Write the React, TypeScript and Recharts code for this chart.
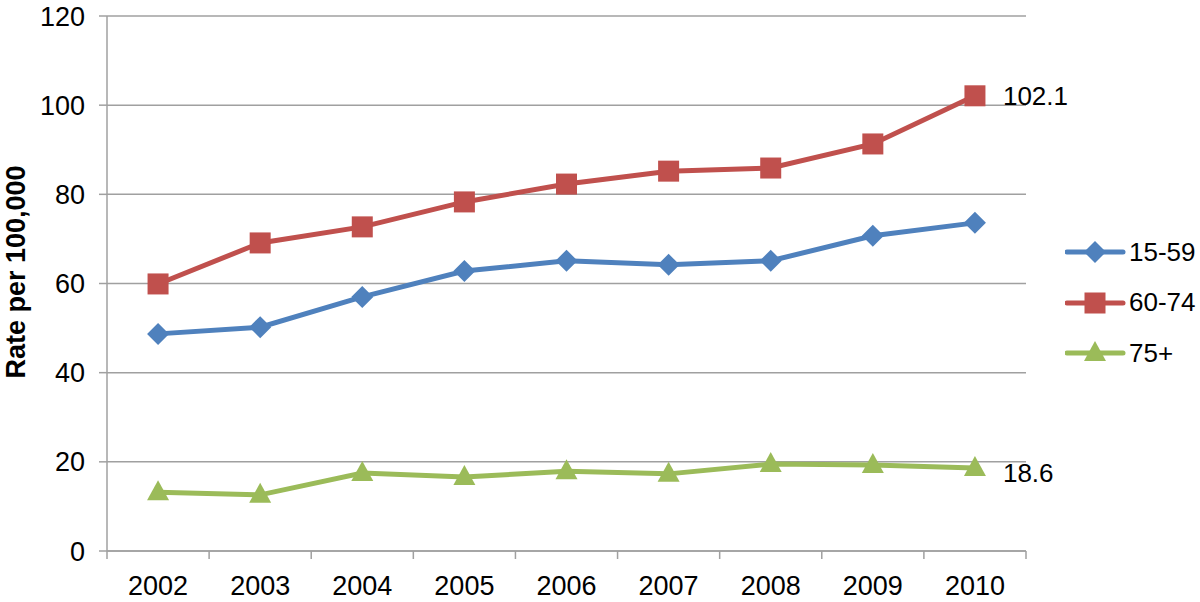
import React from "react";
import { LineChart, Line, XAxis, YAxis, CartesianGrid, Legend, LabelList } from "recharts";

// -------------------------
// DATA
// -------------------------
const years = ["2002", "2003", "2004", "2005", "2006", "2007", "2008", "2009", "2010"];
const rate15to59 = [48.7, 50.2, 57.0, 62.8, 65.1, 64.2, 65.1, 70.7, 73.6];
const rate60to74 = [59.9, 69.1, 72.7, 78.3, 82.3, 85.2, 85.9, 91.3, 102.1];
const rate75plus = [13.2, 12.6, 17.5, 16.6, 17.9, 17.3, 19.5, 19.3, 18.6];
const yTicks = [0, 20, 40, 60, 80, 100, 120];

const FONT = "'Liberation Sans', Arial, Helvetica, sans-serif";
const GRID = "#a0a0a0";

const SERIES = [
  { key: "g1", name: "15-59", color: "#4f81bd", shape: "diamond" },
  { key: "g2", name: "60-74", color: "#c0504d", shape: "square" },
  { key: "g3", name: "75+", color: "#9bbb59", shape: "triangle" },
];

const data = years.map((year, i) => ({
  year,
  g1: rate15to59[i],
  g2: rate60to74[i],
  g3: rate75plus[i],
}));

function Marker({ cx, cy, shape, color }: any) {
  if (cx == null || cy == null) return null;
  if (shape === "diamond") {
    const r = 11;
    return (
      <polygon
        points={`${cx},${cy - r} ${cx + r},${cy} ${cx},${cy + r} ${cx - r},${cy}`}
        fill={color}
      />
    );
  }
  if (shape === "square") {
    const h = 10.5;
    return <rect x={cx - h} y={cy - h} width={h * 2} height={h * 2} fill={color} />;
  }
  return (
    <polygon
      points={`${cx},${cy - 12} ${cx + 11},${cy + 8} ${cx - 11},${cy + 8}`}
      fill={color}
    />
  );
}

function makeDot(shape: string, color: string) {
  return (props: any) => (
    <Marker key={`${shape}-${props.index}`} cx={props.cx} cy={props.cy} shape={shape} color={color} />
  );
}

function EndLabel(dy: number) {
  return (props: any) => {
    if (props.index !== years.length - 1) return null;
    return (
      <text
        x={props.x + 28}
        y={props.y + dy}
        dominantBaseline="central"
        fontSize={26}
        fontFamily={FONT}
        fill="#000"
      >
        {props.value}
      </text>
    );
  };
}

function YearTick(props: any) {
  const { x, y, payload, index } = props;
  const half = payload && payload.offset ? payload.offset : 51;
  const top = y - 8;
  return (
    <g>
      <line x1={x - half} y1={top} x2={x - half} y2={y} stroke={GRID} strokeWidth={1.5} />
      {index === years.length - 1 && (
        <line x1={x + half} y1={top} x2={x + half} y2={y} stroke={GRID} strokeWidth={1.5} />
      )}
      <text x={x} y={y + 36} textAnchor="middle" fontSize={27} fontFamily={FONT} fill="#000">
        {payload.value}
      </text>
    </g>
  );
}

function LegendBox() {
  return (
    <div style={{ fontFamily: FONT }}>
      {SERIES.map((s) => (
        <div key={s.key} style={{ display: "flex", alignItems: "center", height: 50.5 }}>
          <svg width={62} height={30} style={{ display: "block" }}>
            <line x1={2} y1={15} x2={58} y2={15} stroke={s.color} strokeWidth={5} strokeLinecap="round" />
            <Marker cx={30} cy={15} shape={s.shape} color={s.color} />
          </svg>
          <span style={{ fontSize: 26, color: "#000", marginLeft: 2 }}>{s.name}</span>
        </div>
      ))}
    </div>
  );
}

export default function App() {
  return (
    <div style={{ position: "absolute", left: 0, top: 0, width: 1200, height: 602, background: "#fff" }}>
      <LineChart
        width={1200}
        height={602}
        data={data}
        margin={{ top: 16, right: 174, left: 0, bottom: 0 }}
      >
        <CartesianGrid vertical={false} stroke={GRID} strokeWidth={1.5} />
        <XAxis
          dataKey="year"
          scale="band"
          interval={0}
          height={51}
          tickSize={8}
          tickMargin={0}
          tickLine={false}
          axisLine={{ stroke: GRID, strokeWidth: 1.5 }}
          tick={<YearTick />}
        />
        <YAxis
          width={107}
          domain={[0, 120]}
          ticks={yTicks}
          interval={0}
          tickSize={8}
          tickMargin={14}
          axisLine={{ stroke: GRID, strokeWidth: 1.5 }}
          tickLine={{ stroke: GRID, strokeWidth: 1.5 }}
          tick={{ fontSize: 27, fill: "#000", fontFamily: FONT }}
          label={() => (
            <text
              x={16}
              y={272}
              transform="rotate(-90 16 272)"
              textAnchor="middle"
              dominantBaseline="central"
              fontSize={27}
              fontWeight={700}
              fontFamily={FONT}
              fill="#000"
            >
              Rate per 100,000
            </text>
          )}
        />
        <Legend
          layout="horizontal"
          verticalAlign="middle"
          align="center"
          content={() => <LegendBox />}
          wrapperStyle={{ position: "absolute", left: 1065, top: 227, width: 140 }}
        />
        {SERIES.map((s, i) => (
          <Line
            key={s.key}
            dataKey={s.key}
            name={s.name}
            stroke={s.color}
            strokeWidth={5}
            isAnimationActive={false}
            dot={makeDot(s.shape, s.color)}
            activeDot={false}
          >
            {i === 1 && <LabelList dataKey={s.key} content={EndLabel(0)} />}
            {i === 2 && <LabelList dataKey={s.key} content={EndLabel(5)} />}
          </Line>
        ))}
      </LineChart>
    </div>
  );
}
